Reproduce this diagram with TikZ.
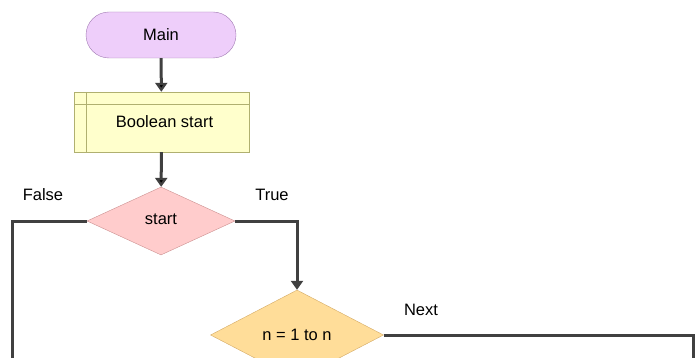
\documentclass[tikz,border=0pt]{standalone}
\usepackage{fontspec}
\setmainfont{Liberation Sans}
\usetikzlibrary{arrows.meta}
\usetikzlibrary{shapes.geometric}

\definecolor{lineGray}{RGB}{64,64,64}
\definecolor{mainFill}{RGB}{238,206,250}
\definecolor{mainLine}{RGB}{160,122,178}
\definecolor{procFill}{RGB}{255,255,204}
\definecolor{procLine}{RGB}{176,176,112}
\definecolor{decFill}{RGB}{255,204,204}
\definecolor{decLine}{RGB}{204,144,144}
\definecolor{loopFill}{RGB}{255,221,153}
\definecolor{loopLine}{RGB}{212,170,100}

\tikzset{
	terminal/.style={draw=mainLine,fill=mainFill,shape=rectangle,rounded corners=23pt,minimum width=150pt,minimum height=46pt},
	process/.style={draw=procLine,fill=procFill,shape=rectangle,minimum width=175pt,minimum height=60pt,
		path picture={\draw[procLine] ([xshift=12pt]path picture bounding box.north west) -- ([xshift=12pt]path picture bounding box.south west);
			\draw[procLine] ([yshift=-12pt]path picture bounding box.north west) -- ([yshift=-12pt]path picture bounding box.north east);}},
	decision/.style={draw=decLine,fill=decFill,shape=diamond,inner sep=0pt,minimum width=148pt,minimum height=68pt},
	forloop/.style={draw=loopLine,fill=loopFill,shape=diamond,inner sep=0pt,minimum width=173pt,minimum height=90pt},
	flow/.style={draw=lineGray,line width=3pt},
}

\begin{document}
\begin{tikzpicture}[x=1pt,y=-1pt,>/.tip={Triangle[length=9pt,width=12pt]},font=\fontsize{16.5}{18}\selectfont]
	\useasboundingbox (0,0) rectangle (695,358);
	\draw (161,35) node (main) [terminal] {Main};
	\draw (161.5,122) node (bool) [process] {\hspace*{6pt}Boolean start};
	\draw (161,221) node (start) [decision] {\raisebox{3pt}{start}};
	\draw (297,335) node (loop) [forloop] {n = 1 to n};
	\draw (43,195) node (false) {False};
	\draw (272,195) node (true) {True};
	\draw (421,310) node (next) {Next};
	
	\draw[->,flow] (main) edge (bool);
	\draw[->,flow] (bool) edge (start);
	\draw[->,flow] (start.east) -| (loop.north);
	
	\coordinate (falseEnd) at (12,380);
	\coordinate (nextEnd) at (693,380);
	\draw[flow] (start.west) -| (falseEnd);
	\draw[flow] (loop.east) -| (nextEnd);
\end{tikzpicture}
\end{document}
